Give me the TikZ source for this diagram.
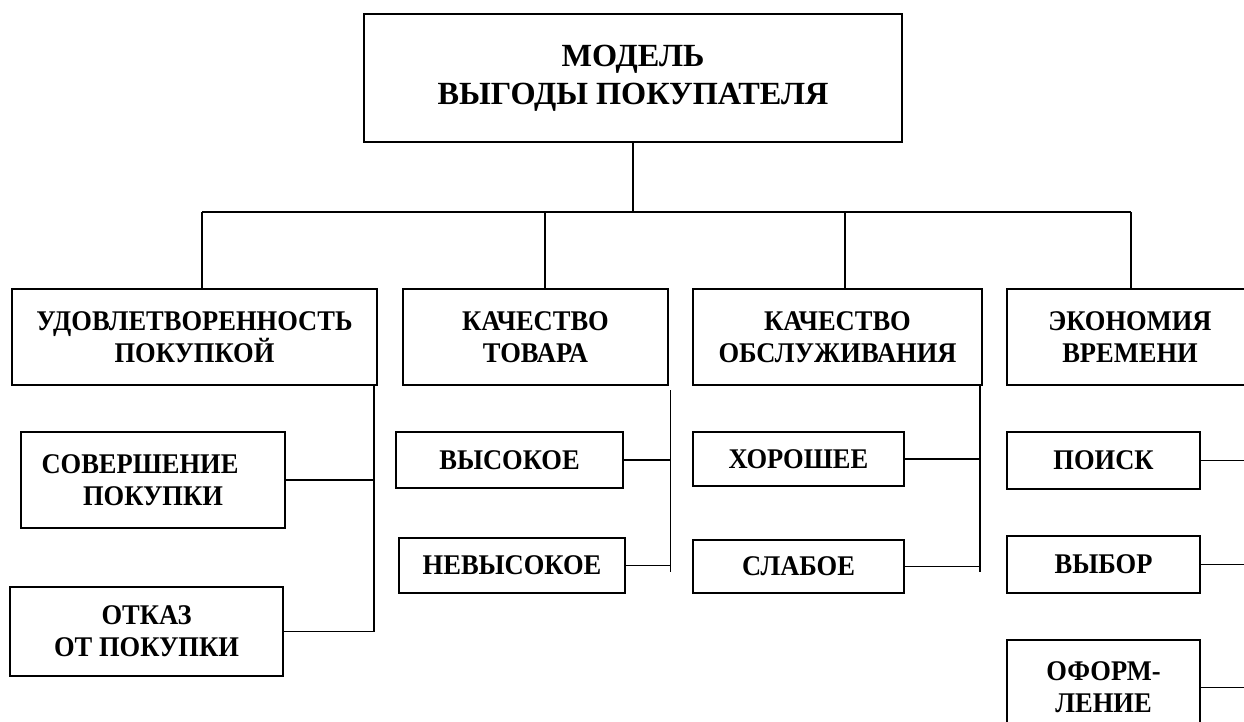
\documentclass[tikz,border=0pt]{standalone}
\usepackage{fontspec}
\setmainfont{Liberation Serif}[FakeStretch=0.93]
\newfontfamily\topfont{Liberation Serif}
\begin{document}
\begin{tikzpicture}[x=1pt,y=-1pt,
  box/.style={draw, line width=1.4pt, inner sep=0pt, align=center,
    font=\bfseries\fontsize{28.5}{32}\selectfont},
  topbox/.style={box, font=\topfont\bfseries\fontsize{32.3}{37.7}\selectfont},
  conn/.style={line width=1.1pt}]
\useasboundingbox (0,0) rectangle (1244,722);
\clip (0,0) rectangle (1244,722);
\fill[white] (0,0) rectangle (1244,722);
% top
\node[topbox, minimum width=538pt, minimum height=128pt] (top) at (633,78) {МОДЕЛЬ\\ВЫГОДЫ ПОКУПАТЕЛЯ};
% level 2
\node[box, minimum width=365pt, minimum height=96pt] (sat) at (194.5,337) {УДОВЛЕТВОРЕННОСТЬ\\ПОКУПКОЙ};
\node[box, minimum width=265pt, minimum height=96pt] (qual) at (535.5,337) {КАЧЕСТВО\\ТОВАРА};
\node[box, minimum width=289pt, minimum height=96pt] (serv) at (837.5,337) {КАЧЕСТВО\\ОБСЛУЖИВАНИЯ};
\node[box, minimum width=246pt, minimum height=96pt] (econ) at (1130,337) {ЭКОНОМИЯ\\ВРЕМЕНИ};
% leaves
\node[box, minimum width=264pt, minimum height=96pt] (sov) at (153,480) {СОВЕРШЕНИЕ\hspace*{26pt}\\ПОКУПКИ};
\node[box, minimum width=273pt, minimum height=89pt] (otk) at (146.5,631.5) {ОТКАЗ\\ОТ ПОКУПКИ};
\node[box, minimum width=227pt, minimum height=56pt] (vys) at (509.5,460) {ВЫСОКОЕ};
\node[box, minimum width=226pt, minimum height=55pt] (nev) at (512,565.5) {НЕВЫСОКОЕ};
\node[box, minimum width=211pt, minimum height=54pt] (hor) at (798.5,459) {ХОРОШЕЕ};
\node[box, minimum width=211pt, minimum height=53pt] (sla) at (798.5,566.5) {СЛАБОЕ};
\node[box, minimum width=193pt, minimum height=57pt] (poi) at (1103.5,460.5) {ПОИСК};
\node[box, minimum width=193pt, minimum height=57pt] (vyb) at (1103.5,564.5) {ВЫБОР};
\node[box, minimum width=193pt, minimum height=95pt] (ofo) at (1103.5,687.5) {ОФОРМ-\\ЛЕНИЕ};
% hub
\coordinate (hub) at (633,212);
\coordinate (hL) at (202,212);
\coordinate (hQ) at (545,212);
\coordinate (hS) at (845,212);
\coordinate (hR) at (1131,212);
\draw[conn] (top.south) -- (hub);
\draw[conn] (hL) -- (hR);
\draw[conn] (hL) -- (hL |- sat.north);
\draw[conn] (hQ) -- (hQ |- qual.north);
\draw[conn] (hS) -- (hS |- serv.north);
\draw[conn] (hR) -- (hR |- econ.north);
% satisfaction bus
\coordinate (b1) at (374,385);
\coordinate (b1e) at (374,632);
\draw[conn] (b1) -- (b1e);
\draw[conn] (sov.east) -- (sov.east -| b1);
\draw[conn] (otk.east) -- (otk.east -| b1);
% quality bus
\coordinate (b2) at (670.5,390);
\coordinate (b2e) at (670.5,572);
\draw[conn] (b2) -- (b2e);
\draw[conn] (vys.east) -- (vys.east -| b2);
\draw[conn] (nev.east) -- (nev.east -| b2);
% service bus
\coordinate (b3) at (980,385);
\coordinate (b3e) at (980,572);
\draw[conn] (b3) -- (b3e);
\draw[conn] (hor.east) -- (hor.east -| b3);
\draw[conn] (sla.east) -- (sla.east -| b3);
% economy lines
\coordinate (b4) at (1250,460);
\draw[conn] (poi.east) -- (poi.east -| b4);
\draw[conn] (vyb.east) -- (vyb.east -| b4);
\draw[conn] (ofo.east) -- (ofo.east -| b4);
\end{tikzpicture}
\end{document}
